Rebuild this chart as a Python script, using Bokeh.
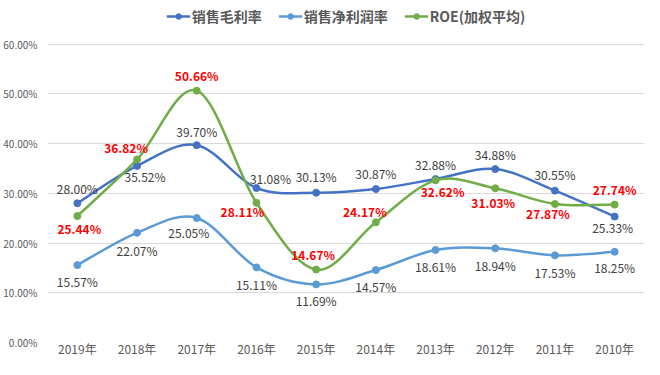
from bokeh.plotting import figure
from bokeh.models import (Range1d, FixedTicker, ColumnDataSource, Legend, LegendItem,
                          PrintfTickFormatter)
from bokeh.core.properties import value
from bokeh.embed import file_html
from bokeh.resources import INLINE

# ---------------- data ----------------
years = ["2019年", "2018年", "2017年", "2016年", "2015年", "2014年", "2013年", "2012年", "2011年", "2010年"]
gross_margin = [28.00, 35.52, 39.70, 31.08, 30.13, 30.87, 32.88, 34.88, 30.55, 25.33]
net_margin = [15.57, 22.07, 25.05, 15.11, 11.69, 14.57, 18.61, 18.94, 17.53, 18.25]
roe = [25.44, 36.82, 50.66, 28.11, 14.67, 24.17, 32.62, 31.03, 27.87, 27.74]
series_names = ["销售毛利率", "销售净利润率", "ROE(加权平均)"]
y_ticks = [0, 10, 20, 30, 40, 50, 60]

# ---------------- label placement (pixel offsets, style only) ----------------
gm_dx = [0, 8, 0, 14, 0, 0, 0, 0, 0, -2]
gm_dy = [-15, 11, -14, -10, -16, -16, -15, -15, -16, 11]
nm_dx = [0, 0, -8, 0, 0, 0, 0, 0, 0, 0]
nm_dy = [16, 18, 15, 17, 16, 16, 17, 17, 17, 16]
roe_dx = [2, -11, 0, -14, -3, -11, 7, -2, -7, 0]
roe_dy = [12, -12, -15, 9, -15, -11, 11, 14, 10, -15]

FONT = "Noto Sans CJK SC"
C_GM = "#4472C4"
C_NM = "#5B9BD5"
C_ROE = "#70AD47"

xs = list(range(len(years)))

# y range extends above 60% to leave room for the legend inside the frame
p = figure(width=644, height=359, output_backend="svg", toolbar_location=None,
           x_range=Range1d(-0.5, len(years) - 0.5), y_range=Range1d(0, 68.8),
           min_border_left=46, min_border_right=0, min_border_bottom=0, min_border_top=0)
p.outline_line_color = None
p.background_fill_color = "white"
p.border_fill_color = "white"

p.xgrid.grid_line_color = None
p.ygrid.grid_line_color = "#D9D9D9"
p.ygrid.grid_line_width = 1
p.ygrid.ticker = FixedTicker(ticks=y_ticks)
p.yaxis.ticker = FixedTicker(ticks=y_ticks)
p.yaxis.formatter = PrintfTickFormatter(format="%.2f%%")
p.yaxis.axis_line_color = None
p.yaxis.major_tick_line_color = None
p.yaxis.minor_tick_line_color = None
p.yaxis.major_tick_out = 0
p.yaxis.minor_tick_out = 0
p.yaxis.major_label_text_font = FONT
p.yaxis.major_label_text_font_size = "10px"
p.yaxis.major_label_text_color = "#595959"
p.yaxis.major_label_standoff = 10

p.xaxis.ticker = FixedTicker(ticks=xs)
p.xaxis.major_label_overrides = {i: y for i, y in enumerate(years)}
p.xaxis.axis_line_color = None
p.xaxis.major_tick_line_color = None
p.xaxis.minor_tick_line_color = None
p.xaxis.major_tick_out = 0
p.xaxis.minor_tick_out = 0
p.xaxis.major_label_text_font = FONT
p.xaxis.major_label_text_font_size = "12px"
p.xaxis.major_label_text_line_height = 1.0
p.xaxis.major_label_text_color = "#595959"
p.xaxis.major_label_standoff = -3


def smooth_segments(ys):
    """Bezier control points for a Catmull-Rom style smoothed line through the data."""
    n = len(ys)
    pts = list(zip(xs, ys))
    x0, y0, x1, y1, cx0, cy0, cx1, cy1 = [], [], [], [], [], [], [], []
    for i in range(n - 1):
        pm = pts[i - 1] if i > 0 else pts[i]
        pa = pts[i]
        pb = pts[i + 1]
        pn = pts[i + 2] if i + 2 < n else pts[i + 1]
        x0.append(pa[0]); y0.append(pa[1]); x1.append(pb[0]); y1.append(pb[1])
        cx0.append(pa[0] + (pb[0] - pm[0]) / 6.0)
        cy0.append(pa[1] + (pb[1] - pm[1]) / 6.0)
        cx1.append(pb[0] - (pn[0] - pa[0]) / 6.0)
        cy1.append(pb[1] - (pn[1] - pa[1]) / 6.0)
    return dict(x0=x0, y0=y0, x1=x1, y1=y1, cx0=cx0, cy0=cy0, cx1=cx1, cy1=cy1)


items = []
for ys, color, name in [(gross_margin, C_GM, series_names[0]),
                        (net_margin, C_NM, series_names[1]),
                        (roe, C_ROE, series_names[2])]:
    seg = ColumnDataSource(smooth_segments(ys))
    p.bezier(x0="x0", y0="y0", x1="x1", y1="y1", cx0="cx0", cy0="cy0", cx1="cx1", cy1="cy1",
             source=seg, line_color=color, line_width=2.5)
    p.scatter(xs, ys, size=7, color=color)
    leg_line = p.line([0], [0], line_color=color, line_width=2.5, visible=False)
    leg_dot = p.scatter([0], [0], size=6, color=color, visible=False)
    items.append(LegendItem(label=name, renderers=[leg_line, leg_dot]))


def add_labels(ys, dx, dy, color, bold=False):
    src = ColumnDataSource(dict(x=xs, y=ys, t=["%.2f%%" % v for v in ys], dx=dx, dy=dy))
    p.text(x="x", y="y", text="t", x_offset="dx", y_offset="dy", source=src,
           text_font=value(FONT), text_font_size="12px", text_color=color,
           text_font_style="bold" if bold else "normal",
           text_align="center", text_baseline="middle")


add_labels(gross_margin, gm_dx, gm_dy, "#404040")
add_labels(net_margin, nm_dx, nm_dy, "#404040")
add_labels(roe, roe_dx, roe_dy, "#FF0000", bold=True)

legend = Legend(items=items, orientation="horizontal", location="top_center",
                border_line_color=None, background_fill_alpha=0,
                label_text_font=FONT, label_text_font_size="14px",
                label_text_font_style="bold", label_text_color="#595959",
                glyph_width=24, glyph_height=14, spacing=16, padding=0, margin=6,
                label_standoff=2, label_height=14)
p.add_layout(legend, "center")

open("out.html", "w").write(file_html(p, INLINE))
